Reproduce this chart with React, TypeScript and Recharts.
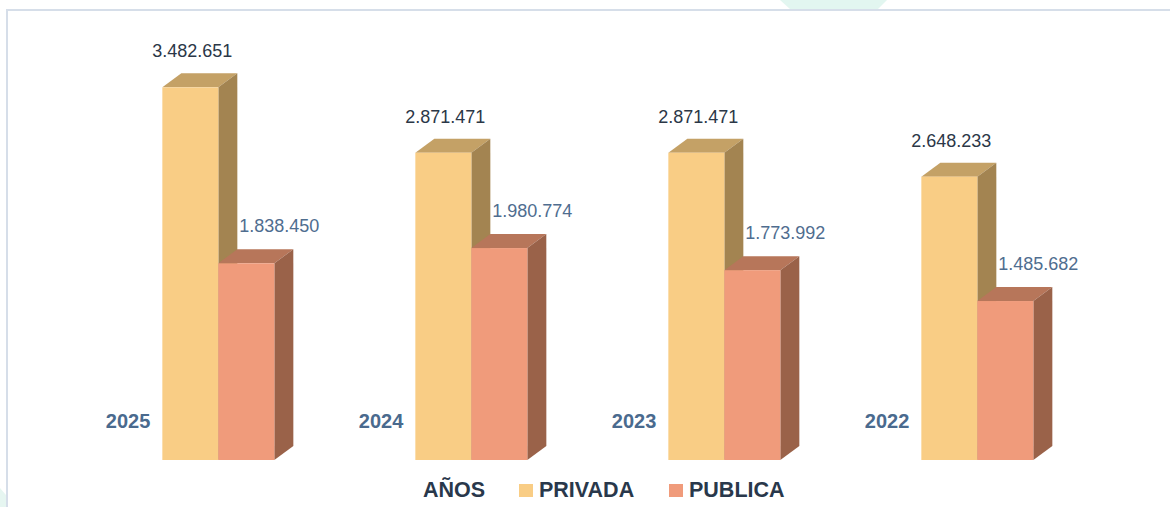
import React from "react";
import { BarChart, Bar, XAxis, YAxis, LabelList } from "recharts";

const years = ["2025", "2024", "2023", "2022"];
const privada = [3482651, 2871471, 2871471, 2648233];
const publica = [1838450, 1980774, 1773992, 1485682];

const data = years.map((y, i) => ({ year: y, privada: privada[i], publica: publica[i] }));

const DX = 19;
const DY = 14;

const fmt = (v: number) => String(v).replace(/\B(?=(\d{3})+(?!\d))/g, ".");

const make3D = (front: string, top: string, side: string) => (props: any) => {
  const { x, y, width: w, height: h } = props;
  if (h == null || w == null) return null;
  return (
    <g>
      <polygon points={`${x},${y} ${x + DX},${y - DY} ${x + w + DX},${y - DY} ${x + w},${y}`} fill={top} />
      <polygon points={`${x + w},${y} ${x + w + DX},${y - DY} ${x + w + DX},${y + h - DY} ${x + w},${y + h}`} fill={side} />
      <rect x={x} y={y} width={w} height={h} fill={front} />
    </g>
  );
};

const PrivadaShape = make3D("#F9CD85", "#C4A166", "#A38451");
const PublicaShape = make3D("#F09B7B", "#B7765A", "#9A6249");

const FONT = "'Liberation Sans', Arial, sans-serif";

const PrivadaValueLabel = (props: any) => {
  const { x, y, width, value } = props;
  return (
    <text x={x + width / 2 + 2} y={y - 36} textAnchor="middle" dominantBaseline="central" fill="#2B3747" fontSize={18} fontFamily={FONT}>
      {fmt(value)}
    </text>
  );
};

const PublicaValueLabel = (props: any) => {
  const { x, y, width, value } = props;
  return (
    <text x={x + width / 2 + 33} y={y - 37} textAnchor="middle" dominantBaseline="central" fill="#4F6D8F" fontSize={18} fontFamily={FONT}>
      {fmt(value)}
    </text>
  );
};

const YearLabel = (props: any) => {
  const { x, y, height, value } = props;
  return (
    <text x={x - 12} y={y + height - 39} textAnchor="end" dominantBaseline="central" fill="#4A6A8E" fontSize={20} fontWeight={700} fontFamily={FONT}>
      {value}
    </text>
  );
};

const legendText: React.CSSProperties = {
  position: "absolute",
  top: 0,
  lineHeight: "24px",
  fontFamily: FONT,
  fontWeight: 700,
  fontSize: 21.5,
  color: "#29384B",
  whiteSpace: "nowrap",
};

export default function App() {
  return (
    <div style={{ position: "absolute", left: 0, top: 0, width: 1170, height: 507, overflow: "hidden", background: "#fff" }}>
      <svg width={1170} height={507} style={{ position: "absolute", left: 0, top: 0 }}>
        <polygon points="780,0 887,0 878,9 790,9" fill="#E2F6F0" />
        <polygon points="0,488 6,495 6,507 0,507" fill="#E6F6F1" />
        <rect x={6} y={9} width={1170} height={2} fill="#D6DEE9" />
        <rect x={6} y={9} width={2} height={498} fill="#D6DEE9" />
      </svg>
      <div style={{ position: "absolute", left: 0, top: 0 }}>
        <BarChart
          width={1170}
          height={507}
          data={data}
          margin={{ top: 32, right: 66.5, bottom: 47, left: 91.5 }}
          barCategoryGap="28%"
          barGap={0}
        >
          <XAxis dataKey="year" hide />
          <YAxis hide domain={[0, 4000000]} />
          <Bar dataKey="privada" name="PRIVADA" fill="#F9CD85" shape={PrivadaShape} isAnimationActive={false}>
            <LabelList dataKey="privada" content={PrivadaValueLabel} />
            <LabelList dataKey="year" content={YearLabel} />
          </Bar>
          <Bar dataKey="publica" name="PUBLICA" fill="#F09B7B" shape={PublicaShape} isAnimationActive={false}>
            <LabelList dataKey="publica" content={PublicaValueLabel} />
          </Bar>
        </BarChart>
      </div>
      <div style={{ position: "absolute", left: 0, top: 478, width: 1170, height: 24 }}>
        <span style={{ ...legendText, left: 423 }}>AÑOS</span>
        <span style={{ position: "absolute", left: 519, top: 6, width: 14, height: 13, background: "#F9CD85" }} />
        <span style={{ ...legendText, left: 539 }}>PRIVADA</span>
        <span style={{ position: "absolute", left: 669, top: 6, width: 14, height: 13, background: "#F09B7B" }} />
        <span style={{ ...legendText, left: 689 }}>PUBLICA</span>
      </div>
    </div>
  );
}
